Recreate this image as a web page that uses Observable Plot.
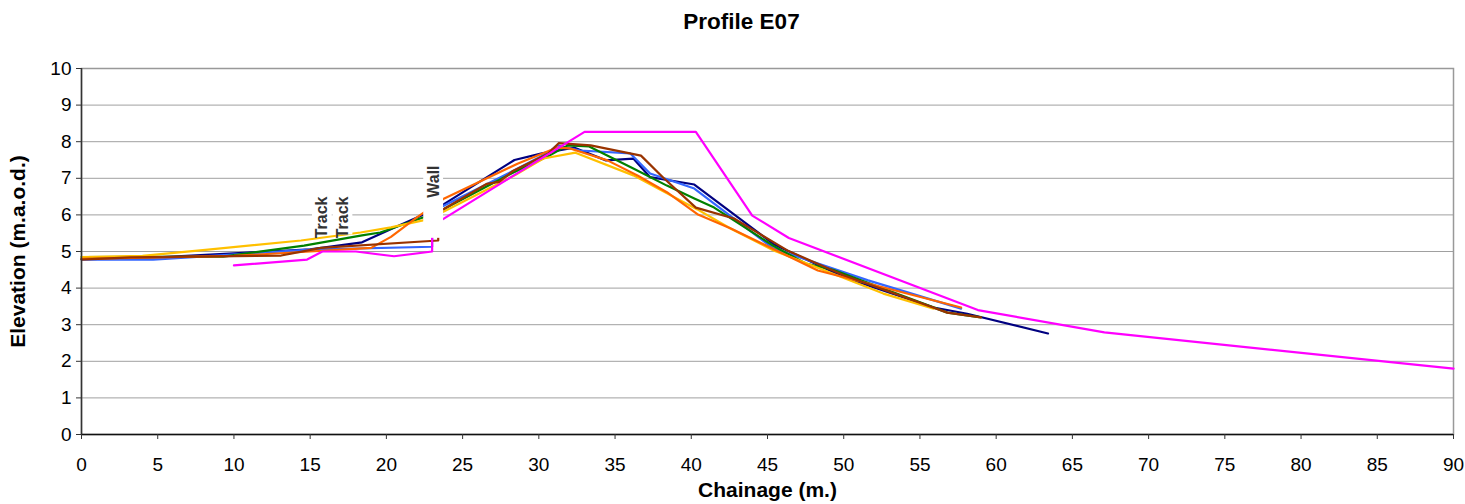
<!DOCTYPE html>
<html><head><meta charset="utf-8">
<script src="https://cdn.jsdelivr.net/npm/d3@7"></script>
<script src="https://cdn.jsdelivr.net/npm/@observablehq/plot@0.6"></script>
<style>body{margin:0;background:#fff;font-family:"Liberation Sans",Arial,sans-serif}</style>
</head><body><div id="chart"></div>
<script>
// ---- data ----
const titleText = "Profile E07";
const xLabel = "Chainage (m.)";
const yLabel = "Elevation (m.a.o.d.)";
const xTicks = [0,5,10,15,20,25,30,35,40,45,50,55,60,65,70,75,80,85,90];
const yTicks = [0,1,2,3,4,5,6,7,8,9,10];

const seriesNames = ["Survey 1","Survey 2","Survey 3","Survey 4","Survey 5","Survey 6","Survey 7"];
const seriesColors = ["#000080","#3366ff","#008000","#ffc000","#ff6600","#993300","#ff00ff"];

const s1X = [0,5,10,15,18.4,20.5,22.6,23.8,28.4,30.2,32.3,34.4,36.2,37.3,40.2,45.4,50,55.9,58.1,63.4];
const s1Y = [4.80,4.84,4.95,5.06,5.25,5.65,6.04,6.30,7.50,7.68,7.84,7.49,7.54,7.03,6.83,5.20,4.30,3.47,3.30,2.76];

const s2X = [0,4.7,15,23.0,23.0,23.8,28.3,30.6,31.2,32.7,36.0,37.3,40.2,45.4,51.6,57.7];
const s2Y = [4.78,4.78,5.05,5.13,6.10,6.26,7.20,7.70,7.90,7.76,7.68,7.13,6.72,5.08,4.21,3.44];

const s3X = [0,9.3,14.6,18.4,19.6,22.4,23.8,28.3,30.6,31.9,33.3,36.2,38.4,40.2,41.5,45.4,47.5,49.3,56.8,59];
const s3Y = [4.85,4.86,5.16,5.44,5.52,5.93,6.17,7.15,7.60,7.90,7.87,7.27,6.80,6.45,6.20,5.15,4.67,4.50,3.33,3.20];

const s4X = [0,4,8.3,14.4,18.3,20.3,22.4,23.8,28.5,30.3,32.4,36.2,40.4,42.6,45.4,52.6,55.9];
const s4Y = [4.85,4.88,5.05,5.30,5.52,5.66,5.85,6.10,7.10,7.54,7.70,7.08,6.15,5.62,5.03,3.85,3.44];

const s5X = [0,10,15,19.0,20.3,22.0,23.8,28.6,31.2,32.0,34.5,36.5,38.4,40.4,42.6,48.3,57.7];
const s5Y = [4.80,4.88,5.00,5.10,5.40,5.93,6.45,7.40,7.84,7.82,7.49,7.07,6.62,6.02,5.63,4.48,3.47];

const s6X = [0,3.2,13.1,15.7,23.4,23.4,23.8,26.6,27.4,28.3,30.6,31.3,33.4,36.7,38.2,40.3,42.8,46.3,50,56.8,59];
const s6Y = [4.78,4.84,4.89,5.10,5.30,6.10,6.17,6.85,6.90,7.20,7.67,7.96,7.90,7.62,7.00,6.20,5.90,5.03,4.35,3.33,3.20];

const s7X = [10,14.8,15.8,18,20.5,23.0,23.0,33.0,40.3,44.0,46.4,58.8,67.1,90];
const s7Y = [4.62,4.78,5.00,5.00,4.87,5.00,5.70,8.27,8.27,5.98,5.37,3.40,2.79,1.80];

const labelText = ["Track","Track","Wall"];
const labelX = [15.8,17.15,23.1];
const labelY = [5.93,5.93,6.91];

// ---- build ----
const seriesXY = [[s1X,s1Y],[s2X,s2Y],[s3X,s3Y],[s4X,s4Y],[s5X,s5Y],[s6X,s6Y],[s7X,s7Y]];
const rows = seriesNames.flatMap((name, k) => {
  const [xs, ys] = seriesXY[k];
  return xs.map((x, i) => ({series: name, x, y: ys[i]}));
});
const labels = labelText.map((t, i) => ({text: t, x: labelX[i], y: labelY[i]}));

const font = "'Liberation Sans', Arial, sans-serif";
const chart = Plot.plot({
  width: 1465, height: 504,
  marginTop: 68, marginBottom: 70, marginLeft: 81, marginRight: 12,
  style: {fontFamily: font, fontSize: "19px", background: "white", color: "black"},
  x: {domain: [0, 90]},
  y: {domain: [0, 10]},
  color: {type: "ordinal", domain: seriesNames, range: seriesColors},
  marks: [
    Plot.gridY(yTicks, {stroke: "#a0a0a0", strokeOpacity: 1, strokeWidth: 1}),
    Plot.frame({stroke: "#999", strokeWidth: 1.5}),
    Plot.line(rows, {x: "x", y: "y", z: "series", stroke: "series", strokeWidth: 2.2}),
    Plot.rect(labels, {
      x1: d => d.x - 0.65, x2: d => d.x + 0.65,
      y1: d => d.y - (d.text === "Wall" ? 1.55 : 0.48),
      y2: d => d.y + (d.text === "Wall" ? 0.55 : 0.62),
      fill: "white"
    }),
    Plot.text(labels, {x: "x", y: "y", text: "text", rotate: -90, fontSize: 16, fontWeight: "bold", fill: "#333"}),
    Plot.ruleX([0], {stroke: "#333", strokeWidth: 1.5}),
    Plot.ruleY([0], {stroke: "#111", strokeWidth: 1.5}),
    Plot.axisX(xTicks, {tickSize: 5, tickPadding: 18, label: null, stroke: "#333"}),
    Plot.axisY(yTicks, {tickSize: 5, tickPadding: 5, label: null, stroke: "#333"}),
    Plot.text([titleText], {frameAnchor: "top", dy: -47, dx: -26, fontSize: 22.5, fontWeight: "bold", lineAnchor: "middle"}),
    Plot.text([xLabel], {frameAnchor: "bottom", dy: 56, fontSize: 21, fontWeight: "bold", lineAnchor: "middle"}),
    Plot.text([yLabel], {frameAnchor: "left", dx: -63, rotate: -90, textAnchor: "middle", lineAnchor: "middle", fontSize: 21, fontWeight: "bold"})
  ]
});
document.getElementById("chart").appendChild(chart);
</script>
</body></html>
